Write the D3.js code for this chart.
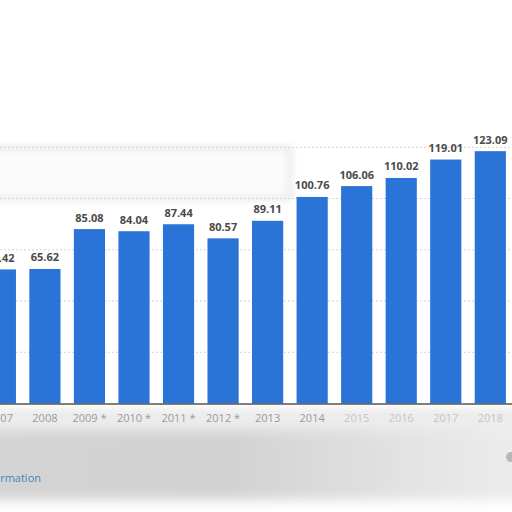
<!DOCTYPE html>
<html>
<head>
<meta charset="utf-8">
<script src="https://cdn.jsdelivr.net/npm/d3@7"></script>
<style>
  html, body { margin: 0; padding: 0; background: #ffffff; }
  svg { display: block; }
</style>
</head>
<body>
<div id="chart"></div>
<script>
// ---- data ----
const categories = ["2007", "2008", "2009 *", "2010 *", "2011 *", "2012 *", "2013", "2014", "2015", "2016", "2017", "2018"];
const values = [65.42, 65.62, 85.08, 84.04, 87.44, 80.57, 89.11, 100.76, 106.06, 110.02, 119.01, 123.09];
const valueLabels = ["65.42", "65.62", "85.08", "84.04", "87.44", "80.57", "89.11", "100.76", "106.06", "110.02", "119.01", "123.09"];
const gridTicks = [25, 50, 75, 100, 125];
const footerText = "Additional Information";

// ---- layout ----
const W = 512, H = 512;
const svg = d3.select("#chart").append("svg").attr("width", W).attr("height", H);

const defs = svg.append("defs");
defs.append("filter").attr("id", "blurBig").attr("x", "-20%").attr("y", "-60%").attr("width", "140%").attr("height", "220%")
  .append("feGaussianBlur").attr("stdDeviation", 6);
defs.append("filter").attr("id", "blurMid").attr("x", "-20%").attr("y", "-60%").attr("width", "140%").attr("height", "220%")
  .append("feGaussianBlur").attr("stdDeviation", 3.5);
defs.append("filter").attr("id", "blurSmall").attr("x", "-10%").attr("y", "-50%").attr("width", "120%").attr("height", "200%")
  .append("feGaussianBlur").attr("stdDeviation", 1.4);
const grad = defs.append("linearGradient").attr("id", "footGrad").attr("x1", "0").attr("x2", "1");
grad.append("stop").attr("offset", "0").attr("stop-color", "#d4d4d4");
grad.append("stop").attr("offset", "0.45").attr("stop-color", "#d2d2d2");
grad.append("stop").attr("offset", "0.75").attr("stop-color", "#e2e2e2");
grad.append("stop").attr("offset", "1").attr("stop-color", "#eeeeee");

const y = d3.scaleLinear().domain([0, 125]).range([403.5, 147.25]);
const step = 44.54;
const x = d3.scaleBand().domain(categories)
  .range([-21.9, -21.9 + 12 * step])
  .paddingInner(0.3).paddingOuter(0.15);

// blurred background artifacts
svg.append("rect").attr("x", -30).attr("y", 408).attr("width", W + 60).attr("height", 30)
  .attr("fill", "#ededed").attr("filter", "url(#blurMid)");
svg.append("rect").attr("x", -30).attr("y", 430).attr("width", W + 60).attr("height", 70)
  .attr("fill", "url(#footGrad)").attr("filter", "url(#blurBig)");
svg.append("rect").attr("x", -10).attr("y", 148).attr("width", 300).attr("height", 50)
  .attr("fill", "#fbfbfb").attr("stroke", "#dcdcdc").attr("stroke-width", 3).attr("filter", "url(#blurMid)");
svg.append("line").attr("x1", 0).attr("x2", W).attr("y1", 146).attr("y2", 146)
  .attr("stroke", "#d2d2d2").attr("stroke-width", 2.5).attr("filter", "url(#blurSmall)");
svg.append("line").attr("x1", 0).attr("x2", W).attr("y1", 505).attr("y2", 505)
  .attr("stroke", "#d0d0d0").attr("stroke-width", 2).attr("filter", "url(#blurSmall)");

// gridlines
svg.append("g").selectAll("line").data(gridTicks).join("line")
  .attr("x1", 0).attr("x2", W)
  .attr("y1", d => y(d)).attr("y2", d => y(d))
  .attr("stroke", "#d4d4d4").attr("stroke-width", 1).attr("stroke-dasharray", "2,2");

// bars
svg.append("g").selectAll("rect").data(values).join("rect")
  .attr("x", (d, i) => x(categories[i]))
  .attr("width", x.bandwidth())
  .attr("y", d => y(d))
  .attr("height", d => y(0) - y(d))
  .attr("fill", "#2a74d8");

// value labels
svg.append("g").selectAll("text").data(values).join("text")
  .attr("x", (d, i) => x(categories[i]) + x.bandwidth() / 2)
  .attr("y", d => y(d) - 7.5)
  .attr("text-anchor", "middle")
  .attr("font-family", "'Open Sans', sans-serif")
  .attr("font-weight", "bold")
  .attr("font-size", 11)
  .attr("fill", "#4a4a4a")
  .text((d, i) => valueLabels[i]);

// x axis
const xAxis = d3.axisBottom(x).tickSize(0).tickPadding(11);
const gx = svg.append("g").attr("transform", `translate(0,${y(0)})`).call(xAxis);
gx.select(".domain").remove();
gx.selectAll("text")
  .attr("font-family", "'Open Sans', sans-serif")
  .attr("font-size", 11)
  .attr("fill", (d, i) => i >= 8 ? "#c4c4c4" : "#9a9a9a");
svg.append("line").attr("x1", 0).attr("x2", W).attr("y1", y(0) + 0.5).attr("y2", y(0) + 0.5)
  .attr("stroke", "#555555").attr("stroke-width", 1.5);

// footer link text
svg.append("text").attr("x", 41).attr("y", 482)
  .attr("text-anchor", "end")
  .attr("font-family", "'Open Sans', sans-serif")
  .attr("font-size", 11)
  .attr("fill", "#3d87b3")
  .text(footerText);

// small icon at right
svg.append("circle").attr("cx", 511).attr("cy", 457).attr("r", 5).attr("fill", "#b8b8b8");
</script>
</body>
</html>
